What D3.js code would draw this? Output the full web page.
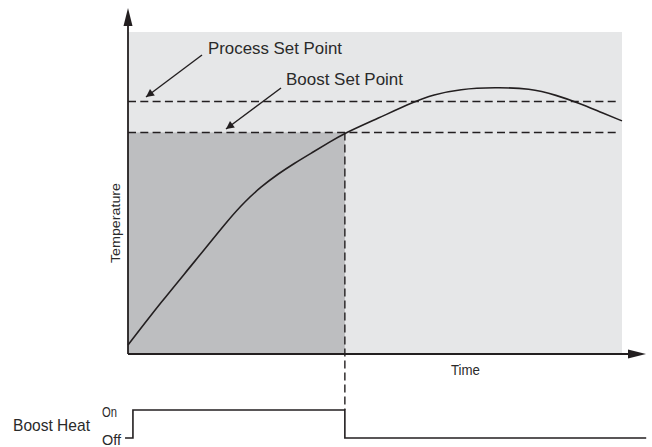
<!DOCTYPE html>
<html>
<head>
<meta charset="utf-8">
<script src="https://cdn.jsdelivr.net/npm/d3@7"></script>
<style>
  html, body { margin: 0; padding: 0; background: #fff; }
  svg { display: block; }
  text { font-family: "Liberation Sans", Arial, Helvetica, sans-serif; fill: #2a2a2a; }
</style>
</head>
<body>
<svg id="chart" width="652" height="447"></svg>
<script>
// ---- data ----
const curveTime = [0, 6.74, 13.5, 20.24, 23.62, 26.98, 30.36, 33.74, 37.11, 40.49, 43.72, 50.61, 57.9, 61.7, 67.2, 74.3, 81.4, 86.7, 91.5, 95.5, 100];
const curveTemp = [2.8, 16.2, 28.7, 41.6, 47.3, 52.0, 55.9, 59.3, 62.4, 65.5, 68.5, 73.2, 78.35, 80.5, 82.3, 82.8, 82.5, 80.4, 77.8, 75.2, 72.4];
const processSetPoint = 78.4;
const boostSetPoint = 68.8;
const boostOffTime = 43.9;
const heatTime = [-0.6, 1.0, 1.0, 43.9, 43.9, 104.9];
const heatState = [0, 0, 1, 1, 0, 0];
const heatLabels = ["On", "Off"];
const labels = { process: "Process Set Point", boost: "Boost Set Point", y: "Temperature", x: "Time", heat: "Boost Heat" };

// ---- layout ----
const svg = d3.select("#chart");
const x = d3.scaleLinear().domain([0, 100]).range([128, 622]);
const y = d3.scaleLinear().domain([0, 100]).range([354, 32]);
const yHeat = d3.scaleLinear().domain([0, 1]).range([438, 410]);
const ink = "#231f20";

const defs = svg.append("defs");
defs.append("marker").attr("id", "arr").attr("viewBox", "0 0 10 10")
  .attr("refX", 10).attr("refY", 5).attr("markerWidth", 12).attr("markerHeight", 8)
  .attr("markerUnits", "userSpaceOnUse").attr("orient", "auto")
  .append("path").attr("d", "M0,0 L10,5 L0,10 Z").attr("fill", ink);

// backgrounds
svg.append("rect").attr("x", x(0)).attr("y", y(100))
  .attr("width", x(100) - x(0)).attr("height", y(0) - y(100)).attr("fill", "#e6e7e8");
svg.append("rect").attr("x", x(0)).attr("y", y(boostSetPoint))
  .attr("width", x(boostOffTime) - x(0)).attr("height", y(0) - y(boostSetPoint)).attr("fill", "#bdbec0");

// set point dashed lines
[processSetPoint, boostSetPoint].forEach(v => {
  svg.append("line").attr("x1", x(0)).attr("x2", x(99)).attr("y1", y(v)).attr("y2", y(v))
    .attr("stroke", ink).attr("stroke-width", 1.4).attr("stroke-dasharray", "8,4.3");
});

// vertical dashed line at boost off
svg.append("line").attr("x1", x(boostOffTime)).attr("x2", x(boostOffTime))
  .attr("y1", y(boostSetPoint)).attr("y2", yHeat(1))
  .attr("stroke", ink).attr("stroke-width", 1.4).attr("stroke-dasharray", "8,4");

// temperature curve
const pts = curveTime.map((t, i) => [x(t), y(curveTemp[i])]);
svg.append("path").attr("d", d3.line().curve(d3.curveBasis)(pts))
  .attr("fill", "none").attr("stroke", ink).attr("stroke-width", 1.6);

// axes with arrows
svg.append("path")
  .attr("d", d3.line()([[x(0), y(0)], [x(0), 24]])).attr("stroke", ink).attr("stroke-width", 1.8);
svg.append("path").attr("d", `M${x(0)},8 L${x(0) + 4.5},26 L${x(0) - 4.5},26 Z`).attr("fill", ink);
svg.append("path")
  .attr("d", d3.line()([[x(0), y(0)], [630, y(0)]])).attr("stroke", ink).attr("stroke-width", 1.8);
svg.append("path").attr("d", `M646,${y(0)} L628,${y(0) - 4.5} L628,${y(0) + 4.5} Z`).attr("fill", ink);

// boost heat step line
const hpts = heatTime.map((t, i) => [x(t), yHeat(heatState[i])]);
svg.append("path").attr("d", d3.line()(hpts)).attr("fill", "none")
  .attr("stroke", ink).attr("stroke-width", 1.6);

// annotation arrows
svg.append("line").attr("x1", 202).attr("y1", 55).attr("x2", 146).attr("y2", 97)
  .attr("stroke", ink).attr("stroke-width", 1.4).attr("marker-end", "url(#arr)");
svg.append("line").attr("x1", 281).attr("y1", 88).attr("x2", 226).attr("y2", 129)
  .attr("stroke", ink).attr("stroke-width", 1.4).attr("marker-end", "url(#arr)");

// texts
function txt(s, tx, ty, size, len, anchor) {
  return svg.append("text").attr("x", tx).attr("y", ty).attr("font-size", size)
    .attr("text-anchor", anchor || "start").attr("textLength", len)
    .attr("lengthAdjust", "spacingAndGlyphs").text(s);
}
txt(labels.process, 208, 54, 17, 134);
txt(labels.boost, 286, 85, 17, 117);
txt(labels.x, 451, 375, 14, 29);
txt(labels.heat, 13, 431, 17, 77);
txt(heatLabels[0], 102, 417, 15.5, 15);
txt(heatLabels[1], 102, 445, 15.5, 19);
svg.append("text").attr("transform", "translate(120,223) rotate(-90)")
  .attr("font-size", 13).attr("text-anchor", "middle")
  .attr("textLength", 80).attr("lengthAdjust", "spacingAndGlyphs").text(labels.y);
</script>
</body>
</html>
